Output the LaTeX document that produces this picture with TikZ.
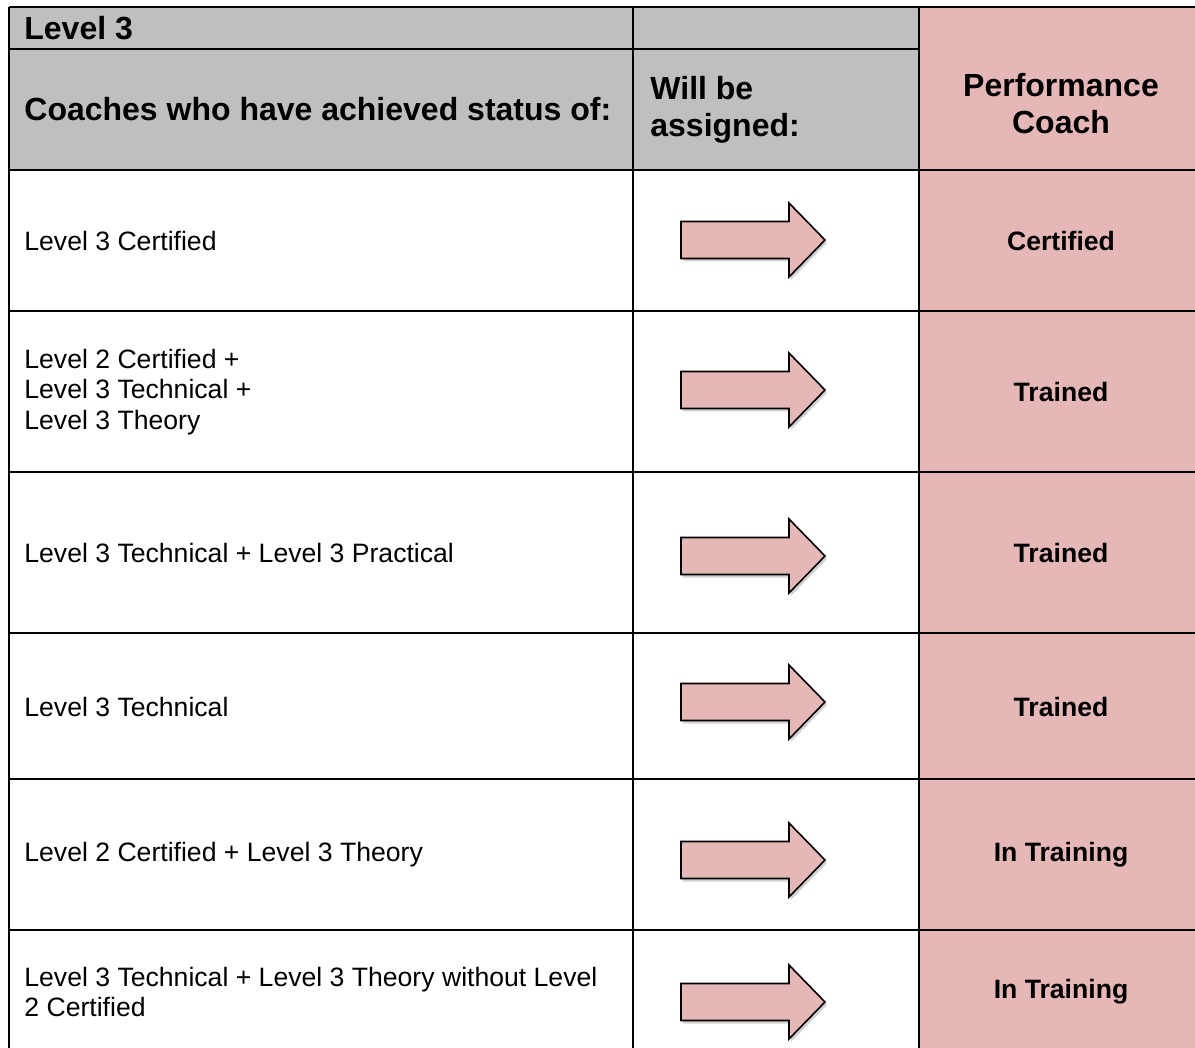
\documentclass[tikz,border=0pt]{standalone}
\usepackage{fontspec}
\setmainfont{Liberation Sans}
\usetikzlibrary{positioning,shadows}

\definecolor{graycell}{HTML}{BFBFBF}
\definecolor{pinkcell}{HTML}{E5B8B7}

\tikzset{
  cell/.style={inner sep=0pt, align=left, anchor=west, font=\fontsize{13.3}{15.25}\selectfont},
  head/.style={inner sep=0pt, align=left, anchor=west, font=\fontsize{16}{18.5}\selectfont\bfseries},
  status/.style={inner sep=0pt, align=center, font=\fontsize{13.3}{15.25}\selectfont\bfseries},
  arrowbox/.style={draw, line width=0.8pt, fill=pinkcell, drop shadow={shadow xshift=1pt, shadow yshift=-1.5pt, opacity=0.35}},
  rule/.style={line width=1.1pt}
}

\begin{document}
\begin{tikzpicture}[x=0.5pt, y=-0.5pt]
\useasboundingbox (0,0) rectangle (1195,1048);

% cell colours
\fill[graycell] (9,7) rectangle (919,170);
\fill[pinkcell] (919,7) rectangle (1195,1048);

% table rules
\draw[rule] (9,7) -- (1195,7);
\draw[rule] (9,49) -- (919,49);
\foreach \y in {170,311,472,633,779,930}
  \draw[rule] (9,\y) -- (1195,\y);
\foreach \x in {9,633,919}
  \draw[rule] (\x,7) -- (\x,1048);

% header
\node[head] (lvl) at (24,28) {Level 3};
\node[head] (coaches) at (24,109) {Coaches who have achieved status of:};
\node[head] (assigned) at (650,110) {Will be\\assigned:};
\node[head, anchor=center, align=center] (perf) at (1061,104) {Performance\\Coach};

% rows
\foreach \n/\y/\txt/\res in {1/241/{Level 3 Certified}/Certified,
    2/392/{Level 2 Certified +\\Level 3 Technical +\\Level 3 Theory}/Trained,
    3/553/{Level 3 Technical + Level 3 Practical}/Trained,
    4/707/{Level 3 Technical}/Trained,
    5/855/{Level 2 Certified + Level 3 Theory}/In Training,
    6/992/{Level 3 Technical + Level 3 Theory without Level\\2 Certified}/In Training}{
  \node[cell] (st\n) at (24,\y) {\txt};
  \node[status] (res\n) at (1061,\y) {\res};
}

% arrows
\foreach \y in {240,390,556,702,860,1002}
  \draw[arrowbox] (681,\y-18.5) -- (789,\y-18.5) -- (789,\y-37) -- (825,\y)
    -- (789,\y+37) -- (789,\y+18.5) -- (681,\y+18.5) -- cycle;

\end{tikzpicture}
\end{document}
